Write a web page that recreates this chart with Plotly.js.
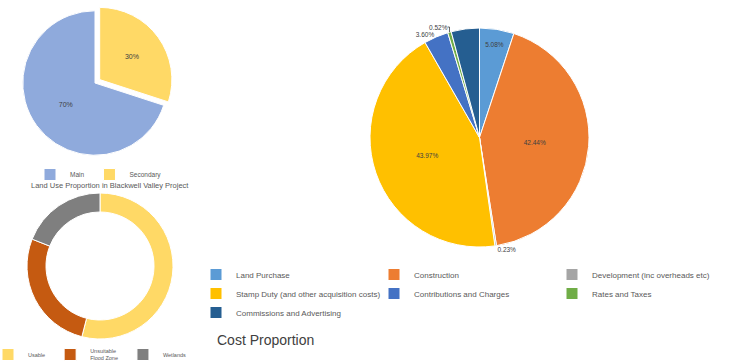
<!DOCTYPE html>
<html>
<head>
<meta charset="utf-8">
<script src="https://cdn.plot.ly/plotly-3.0.1.min.js"></script>
<style>html,body{margin:0;padding:0;background:#fff}#chart{width:732px;height:361px}</style>
</head>
<body>
<div id="chart"></div>
<script>
// Land use pie (drawn clockwise from 12 o'clock: Secondary first)
const landLabels = ['Secondary', 'Main'];
const landValues = [30, 70];
const landColors = ['#FFD966', '#8FAADC'];
const landTitle = 'Land Use Proportion in Blackwell Valley Project';

// Donut
const donutLabels = ['Usable', 'Unsuitable<br>Flood Zone', 'Wetlands'];
const donutValues = [54, 27, 19];
const donutColors = ['#FFD966', '#C55A11', '#7F7F7F'];

// Cost pie
const costLabels = ['Land Purchase', 'Construction', 'Development (inc overheads etc)',
  'Stamp Duty (and other acquisition costs)', 'Contributions and Charges', 'Rates and Taxes',
  'Commissions and Advertising'];
const costValues = [5.08, 42.44, 0.23, 43.97, 3.60, 0.52, 4.16];
const costColors = ['#5B9BD5', '#ED7D31', '#A5A5A5', '#FFC000', '#4472C4', '#70AD47', '#255E91'];
const costTitle = 'Cost Proportion';

const W = 702, H = 361;
const px = v => v / W;
const py = v => 1 - v / H;

const traces = [
  {
    type: 'pie', labels: landLabels, values: landValues, sort: false,
    direction: 'clockwise', rotation: 0, pull: [0.08, 0],
    marker: {colors: landColors, line: {color: '#fff', width: 1}},
    domain: {x: [px(17), px(173)], y: [py(161), py(5)]},
    texttemplate: '%{percent:.0%}', textposition: 'inside',
    insidetextorientation: 'horizontal',
    textfont: {size: 7, color: '#404040', family: 'Liberation Sans'},
    legend: 'legend2', hoverinfo: 'label+percent'
  },
  {
    type: 'pie', labels: donutLabels, values: donutValues, sort: false,
    direction: 'clockwise', rotation: 0, hole: 0.74,
    marker: {colors: donutColors, line: {color: '#fff', width: 1}},
    domain: {x: [px(27), px(173)], y: [py(339), py(193)]},
    textinfo: 'none', legend: 'legend3', hoverinfo: 'label+percent'
  },
  {
    type: 'pie', labels: costLabels, values: costValues, sort: false,
    direction: 'clockwise', rotation: 0,
    marker: {colors: costColors, line: {color: '#fff', width: 1}},
    domain: {x: [px(370), px(589)], y: [py(247), py(28)]},
    texttemplate: '%{percent:.2%}',
    textposition: ['inside', 'inside', 'outside', 'inside', 'outside', 'outside', 'none'],
    insidetextorientation: 'horizontal',
    textfont: {size: 6.5, color: '#404040', family: 'Liberation Sans'},
    legend: 'legend', hoverinfo: 'label+percent'
  }
];

const layout = {
  width: 732, height: 361,
  margin: {l: 0, r: 30, t: 0, b: 0, autoexpand: false},
  paper_bgcolor: '#fff', plot_bgcolor: '#fff',
  font: {family: 'Liberation Sans', color: '#595959'},
  showlegend: true,
  legend: {
    orientation: 'h', x: px(196), xanchor: 'left', y: py(260), yanchor: 'top',
    entrywidth: 133, entrywidthmode: 'pixels',
    font: {size: 8, color: '#595959'}, bgcolor: 'rgba(0,0,0,0)', traceorder: 'normal'
  },
  legend2: {
    orientation: 'h', x: px(30), xanchor: 'left', y: py(160), yanchor: 'top',
    font: {size: 6.5, color: '#595959'}, bgcolor: 'rgba(0,0,0,0)', traceorder: 'reversed'
  },
  legend3: {
    orientation: 'h', x: px(-12), xanchor: 'left', y: py(340), yanchor: 'top',
    font: {size: 5.5, color: '#595959'}, bgcolor: 'rgba(0,0,0,0)'
  },
  annotations: [
    {text: landTitle, x: px(110), y: py(185), xref: 'paper', yref: 'paper',
     showarrow: false, xanchor: 'center', yanchor: 'middle',
     font: {size: 7.5, color: '#595959'}},
    {text: costTitle, x: px(265), y: py(340), xref: 'paper', yref: 'paper',
     showarrow: false, xanchor: 'center', yanchor: 'middle',
     font: {size: 14, color: '#404040'}}
  ]
};

Plotly.newPlot('chart', traces, layout, {displayModeBar: false, staticPlot: true});
</script>
</body>
</html>
